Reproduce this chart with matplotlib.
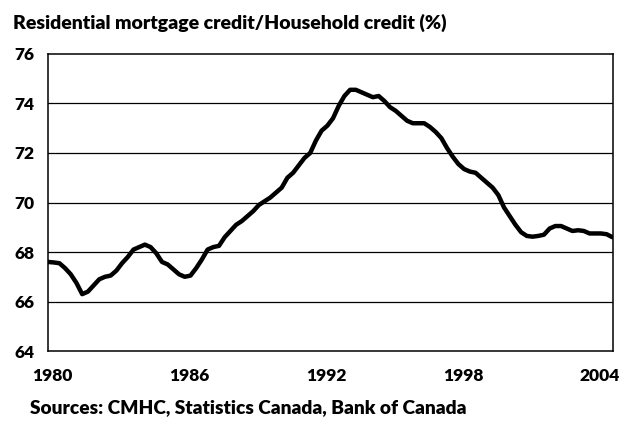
import numpy as np
import matplotlib
matplotlib.use("Agg")
import matplotlib.pyplot as plt

# quarterly ratio, 1980Q1 .. 2004Q4
ratio = [67.6, 67.58, 67.55, 67.35, 67.1, 66.75, 66.3, 66.4, 66.65, 66.9,
         67.0, 67.05, 67.25, 67.55, 67.8, 68.1, 68.2, 68.3, 68.2, 67.95,
         67.6, 67.5, 67.3, 67.1, 67.0, 67.05, 67.35, 67.7, 68.1, 68.2,
         68.25, 68.6, 68.85, 69.1, 69.25, 69.45, 69.65, 69.9, 70.05, 70.2,
         70.4, 70.6, 71.0, 71.2, 71.5, 71.8, 72.0, 72.5, 72.9, 73.1,
         73.4, 73.9, 74.3, 74.55, 74.55, 74.45, 74.35, 74.25, 74.3, 74.1,
         73.85, 73.7, 73.5, 73.3, 73.2, 73.2, 73.2, 73.05, 72.85, 72.6,
         72.2, 71.85, 71.55, 71.35, 71.25, 71.2, 71.0, 70.8, 70.6, 70.3,
         69.8, 69.45, 69.1, 68.8, 68.65, 68.62, 68.65, 68.7, 68.95, 69.05,
         69.05, 68.95, 68.85, 68.88, 68.85, 68.75, 68.75, 68.75, 68.72, 68.6]
years = 1980 + np.arange(len(ratio)) / 4.0

year_labels = ["1980", "1986", "1992", "1998", "2004"]
y_ticks = [64, 66, 68, 70, 72, 74, 76]

plt.rcParams['font.family'] = ['Lato', 'DejaVu Sans']

fig = plt.figure(figsize=(6.23, 4.21), dpi=100)
ax = fig.add_axes([0.077, 0.166, 0.907, 0.706])

ax.plot(years, ratio, color='black', lw=3.2, solid_capstyle='round', zorder=3)

ax.set_xlim(1980, 2004.78)
ax.set_ylim(64, 76)
ax.set_yticks(y_ticks)
ax.set_yticklabels([str(v) for v in y_ticks], fontsize=12.5, fontweight='heavy')
ax.set_xticks([int(y) + 0.2 for y in year_labels])
ax.set_xticklabels(year_labels, fontsize=12.5, fontweight='heavy')
ax.tick_params(axis='both', length=0)
ax.tick_params(axis='x', pad=12)
ax.tick_params(axis='y', pad=10)

for v in y_ticks[1:-1]:
    ax.axhline(v, color='black', lw=0.9, zorder=1)
for s in ax.spines.values():
    s.set_color('black')
    s.set_linewidth(1.1)

fig.text(0.021, 0.945, "Residential mortgage credit/Household credit (%)",
         fontsize=14, fontweight='heavy', va='center', ha='left')
fig.text(0.048, 0.033, "Sources: CMHC, Statistics Canada, Bank of Canada",
         fontsize=13.75, fontweight='heavy', va='center', ha='left')

fig.savefig("out.png", dpi=100)
